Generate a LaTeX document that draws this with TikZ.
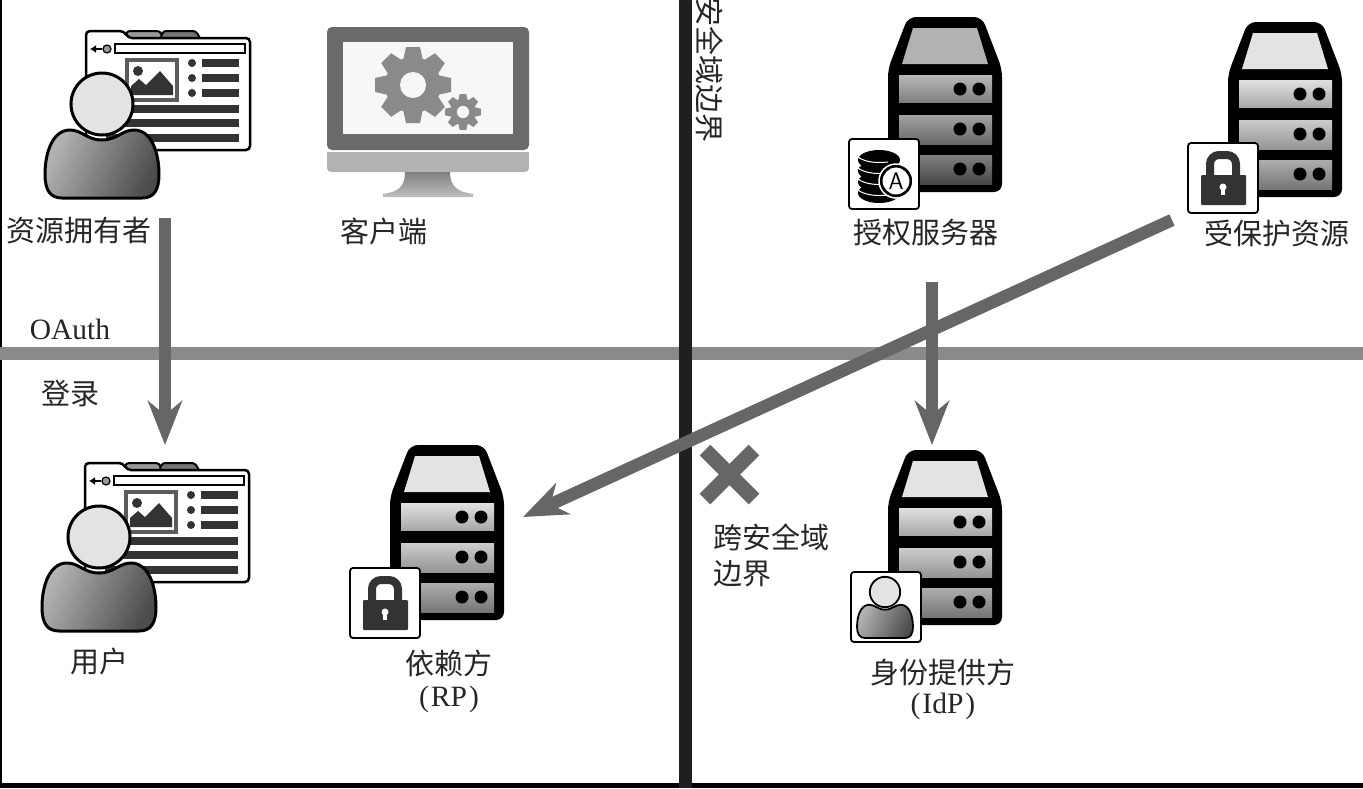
\documentclass[tikz,border=0pt]{standalone}
\usepackage{fontspec}
\setmainfont{Liberation Serif}
\newfontfamily\cjk{Noto Sans CJK SC}
\usetikzlibrary{arrows.meta, positioning}

\definecolor{flowgray}{HTML}{666666}
\definecolor{splitgray}{HTML}{8A8A8A}
\definecolor{inkgray}{HTML}{333333}

\tikzset{
  zh/.style={font=\cjk\fontsize{29}{36}\selectfont,text=black!85,inner sep=0pt},
  en/.style={font=\fontsize{29.5}{32}\selectfont,text=black!85,inner sep=0pt},
  flow/.style={draw=flowgray,line width=12.5pt,-{Stealth[length=44pt,width=34pt,inset=14pt]}},
  pics/person/.style={code={
    \draw[line width=#1,line join=round,left color=black!30,right color=black!70,shading angle=65]
      (0,36) .. controls (-15,36) and (-20,26) .. (-32,26)
      .. controls (-50,26) and (-57,50) .. (-57,70)
      .. controls (-57,86) and (-52,94) .. (-40,94) -- (40,94)
      .. controls (52,94) and (57,86) .. (57,70)
      .. controls (57,50) and (50,26) .. (32,26)
      .. controls (20,26) and (15,36) .. (0,36) -- cycle;
    \draw[line width=#1,fill=black!11] (0,0) circle (31);
  }},
  pics/browser/.style={code={
    \draw[line width=2pt,rounded corners=3pt,fill=black!40] (38,2) -- (41,-7) -- (74,-7) -- (78,2) -- cycle;
    \draw[line width=2pt,rounded corners=3pt,fill=black!55] (74,2) -- (77,-7) -- (110,-7) -- (115,2) -- cycle;
    \draw[line width=2.5pt,rounded corners=4pt,fill=white]
      (0,112) -- (0,-7) -- (38,-7) -- (42,0) -- (164,0) -- (164,112) -- cycle;
    \draw[line width=1.6pt,fill=white] (29,6) rectangle (159,15);
    \draw[-{Latex[length=6pt,width=8pt]},line width=2pt] (16,11) -- (4,11);
    \draw[line width=1.2pt,fill=black!40] (21,11) circle (4);
    \draw[draw=inkgray!80,line width=3.5pt,fill=white] (41,22) rectangle (91,62);
    \fill[inkgray] (52,33) circle (5);
    \fill[inkgray] (45,57) -- (45,48) -- (53,41) -- (60,47) -- (74,33) -- (87,48) -- (87,57) -- cycle;
    \foreach \row in {25,40,55}{
      \fill[inkgray] (106,\row) circle (4);
      \fill[inkgray] (116,\row-4) rectangle (153,\row+4);
    }
    \foreach \row in {71,85,100}
      \fill[inkgray] (20,\row-4) rectangle (153,\row+4);
  }},
  pics/server/.style n args={4}{code={
    \pgfmathtruncatemacro\lowA{#2+22}
    \pgfmathtruncatemacro\lowB{#3+22}
    \pgfmathtruncatemacro\lowC{#4+22}
    \fill[black,rounded corners=8pt] (-37,0) -- (37,0) -- (57,52) -- (57,175) -- (-57,175) -- (-57,52) -- cycle;
    \fill[black!#1] (-32,11) -- (32,11) -- (43,47) -- (-43,47) -- cycle;
    \shade[top color=black!#2,bottom color=black!\lowA] (-46,58) rectangle (47,85);
    \shade[top color=black!#3,bottom color=black!\lowB] (-46,98) rectangle (47,127);
    \shade[top color=black!#4,bottom color=black!\lowC] (-46,138) rectangle (47,167);
    \foreach \row in {72,112,152}{
      \fill[black] (15,\row) circle (6.5);
      \fill[black] (34,\row) circle (6.5);
    }
  }},
  pics/badge/.style={code={
    \draw[line width=1.8pt,rounded corners=3pt,fill=white] (-35,-35) rectangle (35,35);
  }},
  pics/padlock/.style={code={
    \draw[inkgray,line width=8pt,rounded corners=9pt] (-13,0) -- (-13,-23) -- (13,-23) -- (13,0);
    \fill[inkgray,rounded corners=1pt] (-22,-3) rectangle (23,27);
    \fill[white] (0,9) circle (3.5);
    \fill[white] (-2,9) rectangle (2,17);
  }},
  pics/disks/.style={code={
    \foreach \row in {19,8,-3,-14}{
      \fill[black] (-5,\row) ellipse (21 and 10);
      \draw[white,line width=1pt] (-26,\row-3) .. controls (-18,\row+3) and (-5,\row+3) .. (4,\row+2);
    }
    \draw[white,line width=1.5pt,fill=black] (12,7) circle (17);
    \draw[black,line width=1pt,fill=white] (12,7) circle (14);
    \node[font=\sffamily\fontsize{24}{24}\selectfont,inner sep=0pt] (#1) at (12,7) {A};
  }},
  pics/gear/.style={code={
    \foreach \ang in {0,45,...,315}
      \fill[splitgray,rotate=\ang] (-7,-38) -- (7,-38) -- (10,-24) -- (-10,-24) -- cycle;
    \fill[splitgray] (0,0) circle (28);
    \fill[black!3] (0,0) circle (13);
  }}
}

\begin{document}
\begin{tikzpicture}[x=1pt,y=-1pt]
  \useasboundingbox (0,0) rectangle (1363,788);
  \fill[white] (0,0) rectangle (1363,788);

  % frame and the two dividers
  \fill[black] (0,0) rectangle (2,788);
  \fill[black] (0,783) rectangle (1363,788);
  \fill[splitgray] (0,347) rectangle (1363,360);
  \fill[black!88] (679,0) rectangle (692,788);

  % top left
  \pic at (86,38) {browser};
  \pic at (102,104) {person=3pt};
  \node[zh] (owner) at (79,231) {资源拥有者};

  \fill[black!58,rounded corners=5pt] (327,150) -- (327,27) -- (529,27) -- (529,150) -- cycle;
  \fill[black!3] (343,42) rectangle (513,134);
  \pic at (413,85) {gear};
  \pic[scale=.47] at (463,112) {gear};
  \fill[black!30,rounded corners=4pt] (327,152) -- (529,152) -- (529,172) -- (327,172) -- cycle;
  \fill[black!30] (327,152) rectangle (529,160);
  \shade[top color=black!50,bottom color=black!25]
    (405,172) -- (450,172) .. controls (450,187) and (458,192) .. (473,194) -- (473,197) -- (383,197) -- (383,194)
    .. controls (398,192) and (405,187) .. (405,172) -- cycle;
  \node[zh] (client) at (384,231) {客户端};

  % top right
  \pic at (945,17) {server={30}{28}{37}{50}};
  \pic at (884,174) {badge};
  \pic at (884,174) {disks=dbA};
  \node[zh] (authz) at (926,233) {授权服务器};

  \pic at (1285,22) {server={11}{12}{20}{32}};
  \pic at (1223,178) {badge};
  \pic at (1223,178) {padlock};
  \node[zh] (resource) at (1277,233) {受保护资源};

  \node[zh,rotate=-90] (border) at (710,70) {安全域边界};
  \node[en] (oauth) at (70,329) {OAuth};
  \node[zh] (login) at (70,394) {登录};

  % bottom left
  \pic at (85,470) {browser};
  \pic at (99,537) {person=3pt};
  \node[zh] (user) at (99,661) {用户};

  \pic at (447,445) {server={11}{12}{20}{32}};
  \pic at (385,603) {badge};
  \pic at (385,603) {padlock};
  \node[zh] (rp) at (449,663) {依赖方};
  \node[en] (rptag) at (449,699) {(\kern2pt RP\kern2pt)};

  % bottom right
  \pic at (945,450) {server={11}{12}{20}{32}};
  \pic at (886,607) {badge};
  \pic[scale=.49] at (885,592) {person=1.8pt};
  \node[zh] (idp) at (943,672) {身份提供方};
  \node[en] (idptag) at (943,706) {(\kern2pt IdP\kern2pt)};

  \coordinate (cross_nw) at (705,450);
  \coordinate (cross_se) at (754,499);
  \coordinate (cross_ne) at (754,450);
  \coordinate (cross_sw) at (705,499);
  \draw[flowgray,line width=15pt] (cross_nw) -- (cross_se);
  \draw[flowgray,line width=15pt] (cross_ne) -- (cross_sw);
  \node[zh,align=left] (crossing) at (771,555) {跨安全域\\边界};

  % arrows
  \coordinate (owner_out) at (165,218);
  \coordinate (user_in) at (165,445);
  \coordinate (authz_out) at (932,282);
  \coordinate (idp_in) at (932,445);
  \coordinate (resource_out) at (1172,220);
  \coordinate (rp_in) at (523,517);

  \path
  (owner_out) edge[flow] (user_in)
  (authz_out) edge[flow] (idp_in)
  (resource_out) edge[flow] (rp_in)
  ;
\end{tikzpicture}
\end{document}
